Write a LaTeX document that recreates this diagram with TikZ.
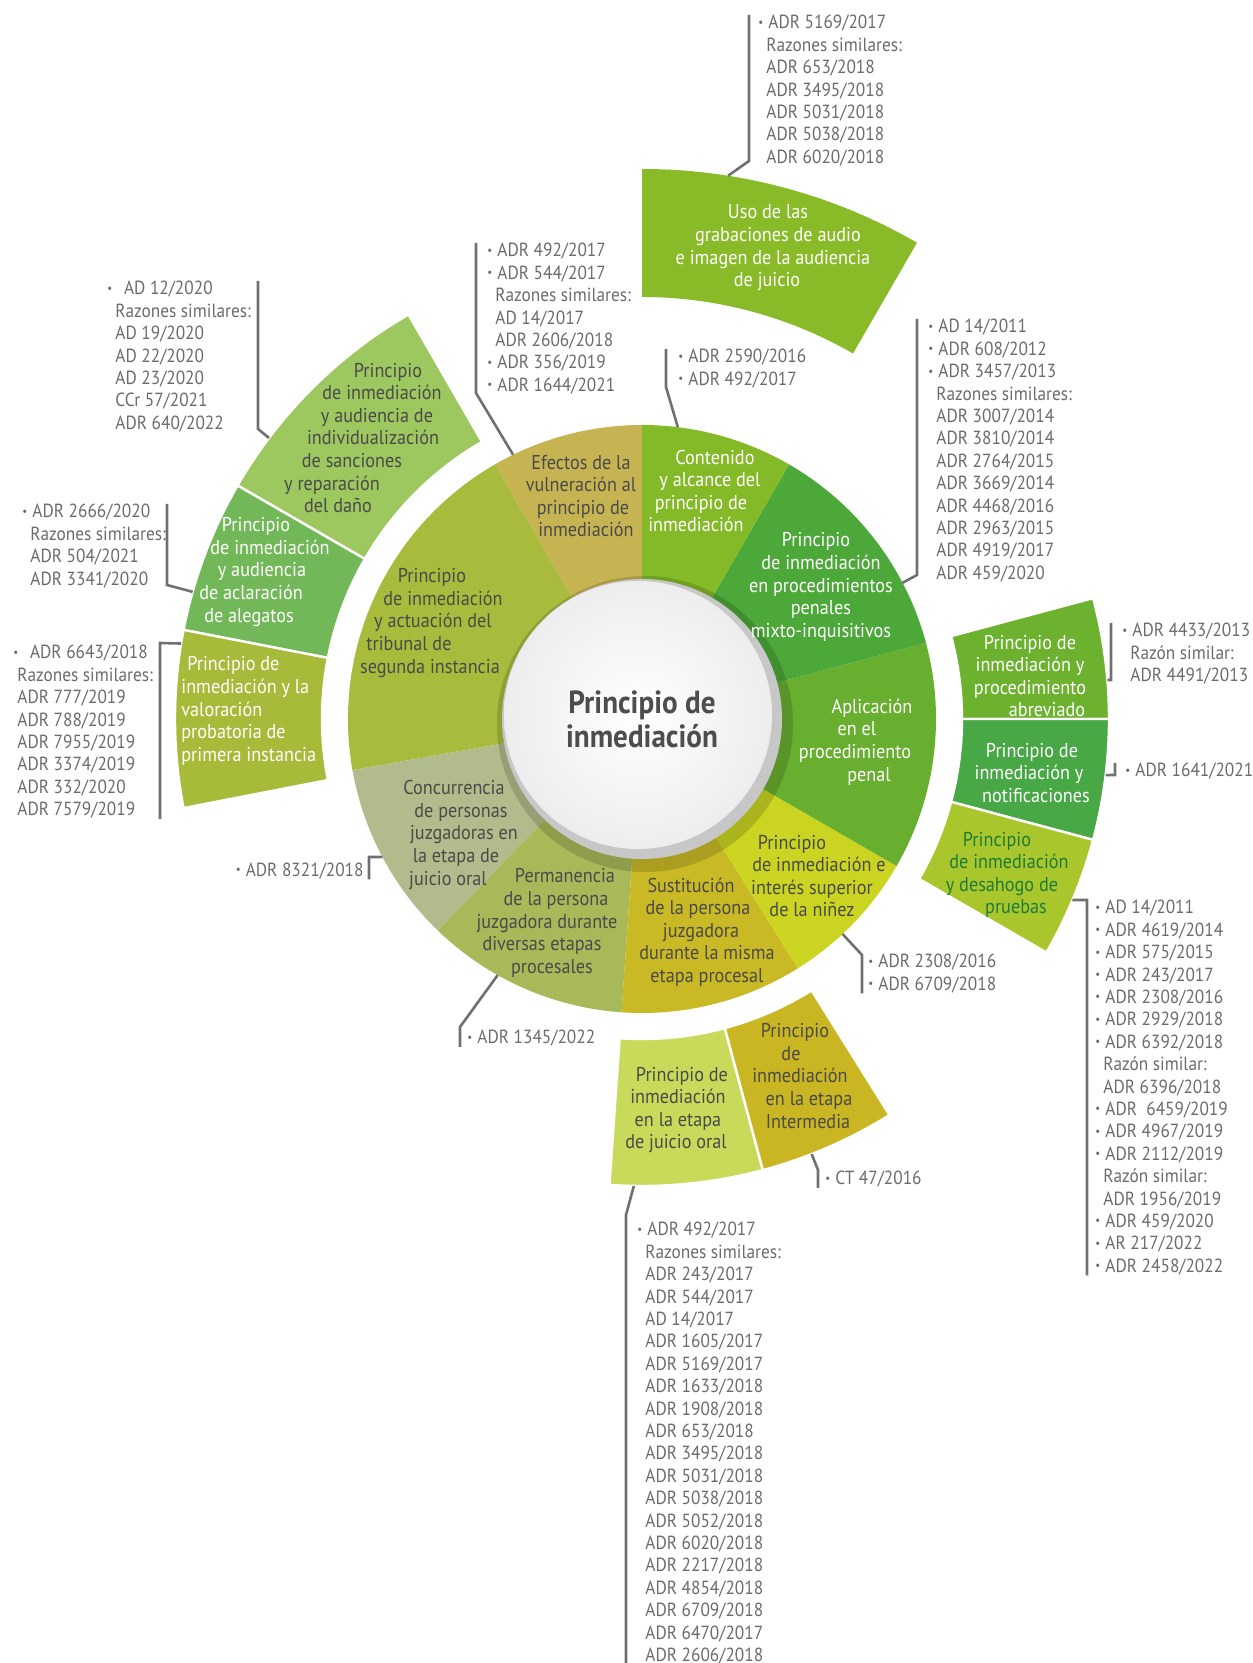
\documentclass[tikz,border=0pt]{standalone}
\usepackage{fontspec}
\setmainfont{PT Sans}[FakeStretch=0.91]

\definecolor{cEfectos}{HTML}{C6B453}
\definecolor{cActuacion}{HTML}{A9BB3C}
\definecolor{cConcurrencia}{HTML}{B2BB8B}
\definecolor{cPermanencia}{HTML}{A8B95A}
\definecolor{cSustitucion}{HTML}{C9B925}
\definecolor{cNinez}{HTML}{CAD421}
\definecolor{cAplicacion}{HTML}{68AE2F}
\definecolor{cMixto}{HTML}{4DA83A}
\definecolor{cContenido}{HTML}{84BA28}
\definecolor{cUso}{HTML}{89BB29}
\definecolor{cSanciones}{HTML}{9DC75F}
\definecolor{cAlegatos}{HTML}{72B858}
\definecolor{cValoracion}{HTML}{A8BA3A}
\definecolor{cAbreviado}{HTML}{6DB22E}
\definecolor{cNotif}{HTML}{48A846}
\definecolor{cDesahogo}{HTML}{A9C72D}
\definecolor{cJuicio}{HTML}{C9DA5B}
\definecolor{cIntermedia}{HTML}{C9B622}
\definecolor{labeldark}{HTML}{4A4A4A}
\definecolor{labelgreen}{HTML}{1E7B35}
\definecolor{citegray}{HTML}{6B6B6B}
\definecolor{linegray}{HTML}{707070}
\definecolor{titlegray}{HTML}{4D4D4D}

% ring piece: start angle, end angle, inner radius, outer radius, options
\newcommand{\ringseg}[5]{\fill[#5] (#1:#3) arc[start angle=#1, end angle=#2, radius=#3] -- (#2:#4) arc[start angle=#2, end angle=#1, radius=#4] -- cycle;}
\newcommand{\bu}{\makebox[5pt][l]{\raisebox{1.3pt}{\fontsize{6}{6}\selectfont\textbullet}}}
\newcommand{\nb}{\hspace*{4pt}}
% shift one centred line right (R) or left (Lf)
\newcommand{\R}[1]{\hspace*{#1pt}}
\newcommand{\Lf}[1]{\hspace*{#1pt}\null}

\begin{document}
\begin{tikzpicture}[x=0.5pt, y=0.5pt,
    lbl/.style={align=center, inner sep=0pt, text=labeldark, font=\fontsize{10}{11.3}\selectfont},
    lblw/.style={lbl, text=white},
    cite/.style={align=left, inner sep=0pt, text=citegray, font=\fontsize{9.5}{11.2}\selectfont},
    callout/.style={draw=linegray, line width=1.3pt},
    title/.style={align=center, inner sep=0pt, text=titlegray, font=\fontsize{16}{17}\selectfont\bfseries}]
    \useasboundingbox (-642,-944) rectangle (610,719);

    % Outer ring
    \ringseg{60}{90}{422}{550}{cUso}
    \ringseg{120}{150}{320}{467}{cSanciones, draw=white, line width=1.2pt}
    \ringseg{150}{169}{320}{467}{cAlegatos, draw=white, line width=1.2pt}
    \ringseg{169}{191}{320}{467}{cValoracion, draw=white, line width=1.2pt}
    \ringseg{0}{15}{320}{467}{cAbreviado, draw=white, line width=1.2pt}
    \ringseg{-15}{0}{320}{467}{cNotif, draw=white, line width=1.2pt}
    \ringseg{-30}{-15}{320}{467}{cDesahogo, draw=white, line width=1.2pt}
    \ringseg{-94}{-75}{320}{467}{cJuicio, draw=white, line width=1.2pt}
    \ringseg{-75}{-58}{320}{467}{cIntermedia, draw=white, line width=1.2pt}

    % Inner ring
    \ringseg{90}{120}{100}{294}{cEfectos}
    \ringseg{120}{190}{100}{294}{cActuacion}
    \ringseg{190}{226}{100}{294}{cConcurrencia}
    \ringseg{226}{266}{100}{294}{cPermanencia}
    \ringseg{-94}{-58}{100}{294}{cSustitucion}
    \ringseg{-58}{-30}{100}{294}{cNinez}
    \ringseg{-30}{15}{100}{294}{cAplicacion}
    \ringseg{15}{60}{100}{294}{cMixto}
    \ringseg{60}{90}{100}{294}{cContenido}

    % Centre disc
    \fill[black, opacity=0.15] (3,-5) circle (148);
    \fill[black!22] (0,0) circle (140);
    \shade[inner color=white, outer color=black!7] (-4,4) circle (134);
    \node[title] (centre) at (0,0) {Principio de\\inmediación};

    % Labels of the inner ring
    \node[lbl] (efectos) at (-61,223) {Efectos de la\\vulneración al\\\R{2}principio de\\\R{5}inmediación};
    \node[lblw] (contenido) at (63,228) {\R{10}Contenido\\\R{5}y alcance del\\principio de\Lf{4}\\inmediación\Lf{9}};
    \node[lblw] (mixto) at (179,132) {Principio\Lf{5}\\de inmediación\\en procedimientos\\penales\\mixto-inquisitivos};
    \node[lblw] (aplicacion) at (220,-23) {\R{10}Aplicación\\en el\Lf{5}\\procedimiento\Lf{7}\\\R{7}penal};
    \node[lbl] (ninez) at (170,-157) {Principio\Lf{20}\\\R{7}de inmediación e\\interés superior\\de la niñez};
    \node[lbl] (sustitucion) at (59,-213) {Sustitución\Lf{10}\\de la persona\Lf{3}\\juzgadora\\\R{6}durante la misma\\\R{6}etapa procesal};
    \node[lbl] (permanencia) at (-90,-204) {\R{13}Permanencia\\\R{4}de la persona\\juzgadora durante\Lf{5}\\diversas etapas\Lf{10}\\procesales};
    \node[lbl] (concurrencia) at (-186,-116) {Concurrencia\Lf{2}\\\R{5}de personas\\\R{8}juzgadoras en\\la etapa de\\juicio oral\Lf{8}};
    \node[lbl] (actuacion) at (-212,96) {\R{2}Principio\\\R{13}de inmediación\\\R{3}y actuación del\\tribunal de\Lf{21}\\segunda instancia};

    % Labels of the outer ring
    \node[lblw] (uso) at (131,471) {Uso de las\Lf{5}\\\R{5}grabaciones de audio\\e imagen de la audiencia\\de juicio\Lf{6}};
    \node[lbl] (sanciones) at (-279,281) {\R{25}Principio\\\R{19}de inmediación\\\R{14}y audiencia de\\\R{10}individualización\\de sanciones\Lf{11}\\y reparación\Lf{31}\\del daño\Lf{25}};
    \node[lblw] (alegatos) at (-384,147) {Principio\Lf{2}\\\R{12}de inmediación\\\R{4}y audiencia\\de aclaración\Lf{7}\\de alegatos\Lf{9}};
    \node[lblw, align=left, anchor=west] (valoracion) at (-461,8) {\hspace*{3pt}Principio de\\inmediación y la\\valoración\\probatoria de\\primera instancia};
    \node[lblw] (abreviado) at (388,43) {Principio de\\inmediación y\\procedimiento\\\R{17}abreviado};
    \node[lblw] (notif) at (390,-54) {Principio de\\inmediación y\Lf{3}\\\R{4}notificaciones};
    \node[lbl, text=labelgreen] (desahogo) at (364,-156) {Principio\Lf{9}\\\R{3}de inmediación\\y desahogo de\Lf{4}\\\R{10}pruebas};
    \node[lbl] (juicio) at (36,-391) {\R{4}Principio de\\inmediación\\en la etapa\\de juicio oral\Lf{2}};
    \node[lbl] (intermedia) at (158,-357) {Principio\Lf{5}\\de\Lf{9}\\inmediación\\\R{9}en la etapa\\\R{8}Intermedia};

    % Lists of rulings
    \node[cite, anchor=north west] (citeUso) at (116,704) {\bu ADR 5169/2017\\\nb Razones similares:\\\nb ADR 653/2018\\\nb ADR 3495/2018\\\nb ADR 5031/2018\\\nb ADR 5038/2018\\\nb ADR 6020/2018};
    \node[cite, anchor=north west] (citeSanciones) at (-535,438) {\bu\hspace*{1pt} AD 12/2020\\\nb Razones similares:\\\nb AD 19/2020\\\nb AD 22/2020\\\nb AD 23/2020\\\nb CCr 57/2021\\\nb ADR 640/2022};
    \node[cite, anchor=north west] (citeEfectos) at (-155,476) {\bu ADR 492/2017\\\bu ADR 544/2017\\\nb Razones similares:\\\nb AD 14/2017\\\nb ADR 2606/2018\\\bu ADR 356/2019\\\bu ADR 1644/2021};
    \node[cite, anchor=north west] (citeContenido) at (36,370) {\bu ADR 2590/2016\\\bu ADR 492/2017};
    \node[cite, anchor=north west] (citeMixto) at (286,400) {\bu AD 14/2011\\\bu ADR 608/2012\\\bu ADR 3457/2013\\\nb Razones similares:\\\nb ADR 3007/2014\\\nb ADR 3810/2014\\\nb ADR 2764/2015\\\nb ADR 3669/2014\\\nb ADR 4468/2016\\\nb ADR 2963/2015\\\nb ADR 4919/2017\\\nb ADR 459/2020};
    \node[cite, anchor=north west] (citeAbreviado) at (480,96) {\bu ADR 4433/2013\\\nb Razón similar:\\\nb ADR 4491/2013};
    \node[cite, anchor=north west] (citeNotif) at (483,-44) {\bu ADR 1641/2021};
    \node[cite, anchor=north west] (citeDesahogo) at (453,-181) {\bu AD 14/2011\\\bu ADR 4619/2014\\\bu ADR 575/2015\\\bu ADR 243/2017\\\bu ADR 2308/2016\\\bu ADR 2929/2018\\\bu ADR 6392/2018\\\nb Razón similar:\\\nb ADR 6396/2018\\\bu ADR \ 6459/2019\\\bu ADR 4967/2019\\\bu ADR 2112/2019\\\nb Razón similar:\\\nb ADR 1956/2019\\\bu ADR 459/2020\\\bu AR 217/2022\\\bu ADR 2458/2022};
    \node[cite, anchor=north west] (citeNinez) at (226,-235) {\bu ADR 2308/2016\\\bu ADR 6709/2018};
    \node[cite, anchor=north west] (citePermanencia) at (-175,-311) {\bu ADR 1345/2022};
    \node[cite, anchor=east] (citeConcurrencia) at (-278,-152) {\bu ADR 8321/2018};
    \node[cite, anchor=north west] (citeJuicio) at (-5,-503) {\bu ADR 492/2017\\\nb Razones similares:\\\nb ADR 243/2017\\\nb ADR 544/2017\\\nb AD 14/2017\\\nb ADR 1605/2017\\\nb ADR 5169/2017\\\nb ADR 1633/2018\\\nb ADR 1908/2018\\\nb ADR 653/2018\\\nb ADR 3495/2018\\\nb ADR 5031/2018\\\nb ADR 5038/2018\\\nb ADR 5052/2018\\\nb ADR 6020/2018\\\nb ADR 2217/2018\\\nb ADR 4854/2018\\\nb ADR 6709/2018\\\nb ADR 6470/2017\\\nb ADR 2606/2018};
    \node[cite, anchor=north west] (citeIntermedia) at (183,-452) {\bu CT 47/2016};
    \node[cite, anchor=north west] (citeAlegatos) at (-620,215) {\bu ADR 2666/2020\\\nb Razones similares:\\\nb ADR 504/2021\\\nb ADR 3341/2020};
    \node[cite, anchor=north west] (citeValoracion) at (-629,74) {\bu\hspace*{1pt} ADR 6643/2018\\\hspace*{2pt}Razones similares:\\\hspace*{2pt}ADR 777/2019\\\hspace*{2pt}ADR 788/2019\\\hspace*{2pt}ADR 7955/2019\\\hspace*{2pt}ADR 3374/2019\\\hspace*{2pt}ADR 332/2020\\\hspace*{2pt}ADR 7579/2019};

    % Points where the leaders leave the ring and bend
    \coordinate (uUso) at (81:550);            \coordinate (kUso) at (107,558);
    \coordinate (uSanciones) at (143:467);     \coordinate (kSanciones) at (-384,290);
    \coordinate (uEfectos) at (116:294);       \coordinate (kEfectos) at (-166,326);
    \coordinate (uContenido) at (83:294);      \coordinate (kContenido) at (24,332);
    \coordinate (uMixto) at (27.6:294);        \coordinate (kMixto) at (275,144);
    \coordinate (uAbreviado) at (4.8:467);     \coordinate (kAbreviado) at (469,39);
    \coordinate (uNotif) at (-6.9:467);        \coordinate (kNotif) at (473,-56);
    \coordinate (uDesahogo) at (-22.8:467);    \coordinate (kDesahogo) at (445,-181);
    \coordinate (uNinez) at (-47:294);         \coordinate (kNinez) at (220,-236);
    \coordinate (uPermanencia) at (-119.4:294); \coordinate (kPermanencia) at (-182,-308);
    \coordinate (uConcurrencia) at (208:294);  \coordinate (kConcurrencia) at (-273,-138);
    \coordinate (uJuicio) at (-91:467);        \coordinate (kJuicio) at (-16,-496);
    \coordinate (uIntermedia) at (-68.7:467);  \coordinate (kIntermedia) at (176,-451);
    \coordinate (uAlegatos) at (164.2:467);    \coordinate (kAlegatos) at (-475,134);
    \coordinate (uValoracion) at (170.7:467);  \coordinate (kValoracion) at (-482,76);

    % Leaders
    \draw[callout] (uUso) -- (kUso) -- (kUso |- citeUso.north);
    \draw[callout] (uSanciones) -- (kSanciones) -- (kSanciones |- citeSanciones.north);
    \draw[callout] (uEfectos) -- (kEfectos) -- (kEfectos |- citeEfectos.north);
    \draw[callout] (uContenido) -- (kContenido) -- (kContenido |- citeContenido.north);
    \draw[callout] (uMixto) -- (kMixto) -- (kMixto |- citeMixto.north);
    \draw[callout] (uAbreviado) -- (kAbreviado) -- (kAbreviado |- citeAbreviado.north);
    \draw[callout] (uNotif) -- (kNotif) -- (kNotif |- citeNotif.north);
    \draw[callout] (uDesahogo) -- (kDesahogo) -- (kDesahogo |- citeDesahogo.south);
    \draw[callout] (uNinez) -- (kNinez) -- (kNinez |- citeNinez.south);
    \draw[callout] (uPermanencia) -- (kPermanencia) -- (kPermanencia |- citePermanencia.south);
    \draw[callout] (uConcurrencia) -- (kConcurrencia) -- (kConcurrencia |- citeConcurrencia.south);
    \draw[callout] (uJuicio) -- (kJuicio) -- (kJuicio |- citeJuicio.south);
    \draw[callout] (uIntermedia) -- (kIntermedia) -- (kIntermedia |- citeIntermedia.south);
    \draw[callout] (uAlegatos) -- (kAlegatos) -- (kAlegatos |- citeAlegatos.north);
    \draw[callout] (uValoracion) -- (kValoracion) -- (kValoracion |- citeValoracion.south);

\end{tikzpicture}
\end{document}
